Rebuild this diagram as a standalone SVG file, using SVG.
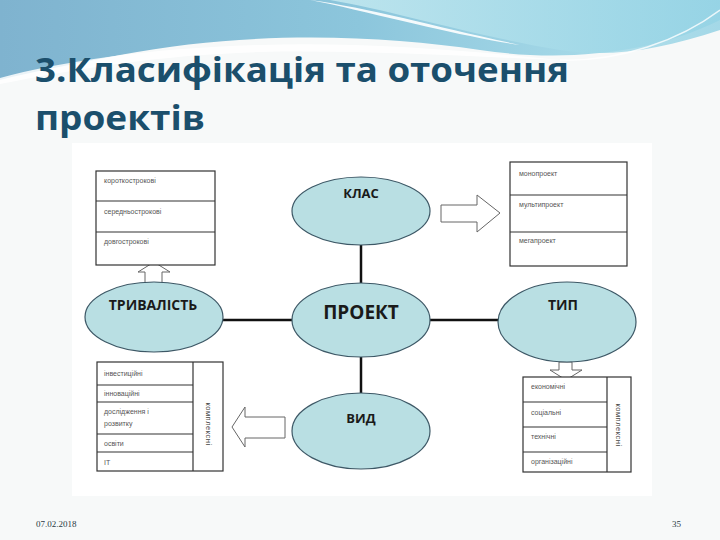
<svg xmlns="http://www.w3.org/2000/svg" width="720" height="540" viewBox="0 0 720 540">
<defs>
<linearGradient id="sky" x1="0" y1="0" x2="1" y2="0">
<stop offset="0" stop-color="#7fb3cf"/>
<stop offset="0.5" stop-color="#8cc6dc"/>
<stop offset="1" stop-color="#b3e3ee"/>
</linearGradient>
<linearGradient id="sky2" x1="0" y1="0" x2="1" y2="0">
<stop offset="0" stop-color="#c9ecf2"/>
<stop offset="1" stop-color="#8fd0e3"/>
</linearGradient>
<style>
.ell{fill:#b9dfe3;stroke:#3d5866;stroke-width:1.2}
.box{fill:#ffffff;stroke:#333333;stroke-width:1.2}
.row{stroke:#333333;stroke-width:1.2;fill:none}
.con{stroke:#111111;stroke-width:2.5;fill:none}
.blk{fill:#ffffff;stroke:#666666;stroke-width:1}
.big{font-family:"Open Sans","Liberation Sans",sans-serif;font-weight:bold;fill:#1a1a1a;text-anchor:middle}
.sm{font-family:"Liberation Sans",sans-serif;font-size:7px;fill:#555555}
.rot{font-family:"Liberation Sans",sans-serif;font-size:7.5px;fill:#444444;letter-spacing:0.5px}
.ttl{font-family:"Open Sans","Liberation Sans",sans-serif;font-weight:bold;font-size:34px;fill:#1b4f6c}
.ft{font-family:"Liberation Serif",serif;font-size:9px;fill:#2a3a44}
</style>
</defs>
<rect width="720" height="540" fill="#f7f9f9"/>
<!-- header swoosh -->
<path d="M0 0 H720 V20 C650 55 560 62 480 50 C380 35 250 30 120 55 C70 65 30 72 0 80 Z" fill="url(#sky)"/>
<path d="M330 0 C390 10 470 35 560 50 C610 58 660 50 720 30 V0 Z" fill="url(#sky2)" opacity="0.8"/>
<path d="M310 0 C370 8 440 28 520 45 C470 38 400 20 330 4 Z" fill="#ffffff" opacity="0.9"/>
<path d="M0 78 C60 62 150 48 260 45 C360 42 460 50 560 60 C460 56 360 50 260 52 C160 55 80 68 0 84 Z" fill="#ffffff" opacity="0.85"/>
<path d="M560 60 C620 62 680 40 720 10" stroke="#ffffff" stroke-width="1.5" fill="none" opacity="0.8"/>
<text class="ttl" x="35" y="82" textLength="534" lengthAdjust="spacingAndGlyphs">3.Класифікація та оточення</text>
<text class="ttl" x="35" y="130" textLength="170" lengthAdjust="spacingAndGlyphs">проектів</text>
<rect x="72" y="143" width="580" height="353" fill="#ffffff"/>
<g id="connectors">
<line class="con" x1="223" y1="320" x2="292" y2="320"/>
<line class="con" x1="430" y1="320" x2="498" y2="320"/>
<line class="con" x1="361" y1="245" x2="361" y2="283"/>
<line class="con" x1="361" y1="357" x2="361" y2="393"/>
<polygon class="blk" points="145,283 145,272 138,272 154,262 170,272 162,272 162,283"/>
<polygon class="blk" points="559,362 559,370 550,370 566,380 582,370 572,370 572,362"/>
<polygon class="blk" points="441,205 477,205 477,195 500,213 477,232 477,222 441,222"/>
<polygon class="blk" points="285,417 245,417 245,407 232,427 245,447 245,438 285,438"/>
</g>
<g id="duration-box">
<rect class="box" x="96" y="171" width="119" height="94"/>
<line class="row" x1="96" y1="201" x2="215" y2="201"/>
<line class="row" x1="96" y1="232" x2="215" y2="232"/>
<text class="sm" x="104" y="183">короткострокові</text>
<text class="sm" x="104" y="214">середньострокові</text>
<text class="sm" x="104" y="244">довгострокові</text>
</g>
<g id="class-box">
<rect class="box" x="510" y="162" width="117" height="104"/>
<line class="row" x1="510" y1="195" x2="627" y2="195"/>
<line class="row" x1="510" y1="232" x2="627" y2="232"/>
<text class="sm" x="519" y="176">монопроект</text>
<text class="sm" x="519" y="207">мультипроект</text>
<text class="sm" x="519" y="243">мегапроект</text>
</g>
<g id="kind-box">
<rect class="box" x="97" y="362" width="126" height="109"/>
<line class="row" x1="193" y1="362" x2="193" y2="471"/>
<line class="row" x1="97" y1="385" x2="193" y2="385"/>
<line class="row" x1="97" y1="402" x2="193" y2="402"/>
<line class="row" x1="97" y1="434" x2="193" y2="434"/>
<line class="row" x1="97" y1="452" x2="193" y2="452"/>
<text class="sm" x="104" y="376">інвестиційні</text>
<text class="sm" x="104" y="396">інноваційні</text>
<text class="sm" x="104" y="414">дослідження і</text>
<text class="sm" x="104" y="426">розвитку</text>
<text class="sm" x="104" y="446">освіти</text>
<text class="sm" x="104" y="465">IT</text>
<text class="rot" transform="translate(206 424) rotate(90)" text-anchor="middle">комплексні</text>
</g>
<g id="type-box">
<rect class="box" x="523" y="377" width="108" height="95"/>
<line class="row" x1="607" y1="377" x2="607" y2="472"/>
<line class="row" x1="523" y1="402" x2="607" y2="402"/>
<line class="row" x1="523" y1="427" x2="607" y2="427"/>
<line class="row" x1="523" y1="452" x2="607" y2="452"/>
<text class="sm" x="531" y="389">економічні</text>
<text class="sm" x="531" y="415">соціальні</text>
<text class="sm" x="531" y="439">технічні</text>
<text class="sm" x="531" y="464">організаційні</text>
<text class="rot" transform="translate(616 425) rotate(90)" text-anchor="middle">комплексні</text>
</g>
<g id="klas"><ellipse class="ell" cx="361" cy="211" rx="69" ry="34"/><text class="big" x="361" y="198" font-size="13">КЛАС</text></g>
<g id="proekt"><ellipse class="ell" cx="361" cy="320" rx="69" ry="37"/><text class="big" x="361" y="319" font-size="19">ПРОЕКТ</text></g>
<g id="vyd"><ellipse class="ell" cx="361" cy="431" rx="69" ry="38"/><text class="big" x="361" y="423" font-size="13">ВИД</text></g>
<g id="tryvalist"><ellipse class="ell" cx="154" cy="317" rx="69" ry="35"/><text class="big" x="153" y="310" font-size="14">ТРИВАЛІСТЬ</text></g>
<g id="typ"><ellipse class="ell" cx="567" cy="322" rx="69" ry="40"/><text class="big" x="563" y="310" font-size="14" font-weight="normal">ТИП</text></g>
<text class="ft" x="36" y="527">07.02.2018</text>
<text class="ft" x="672" y="527">35</text>
</svg>
